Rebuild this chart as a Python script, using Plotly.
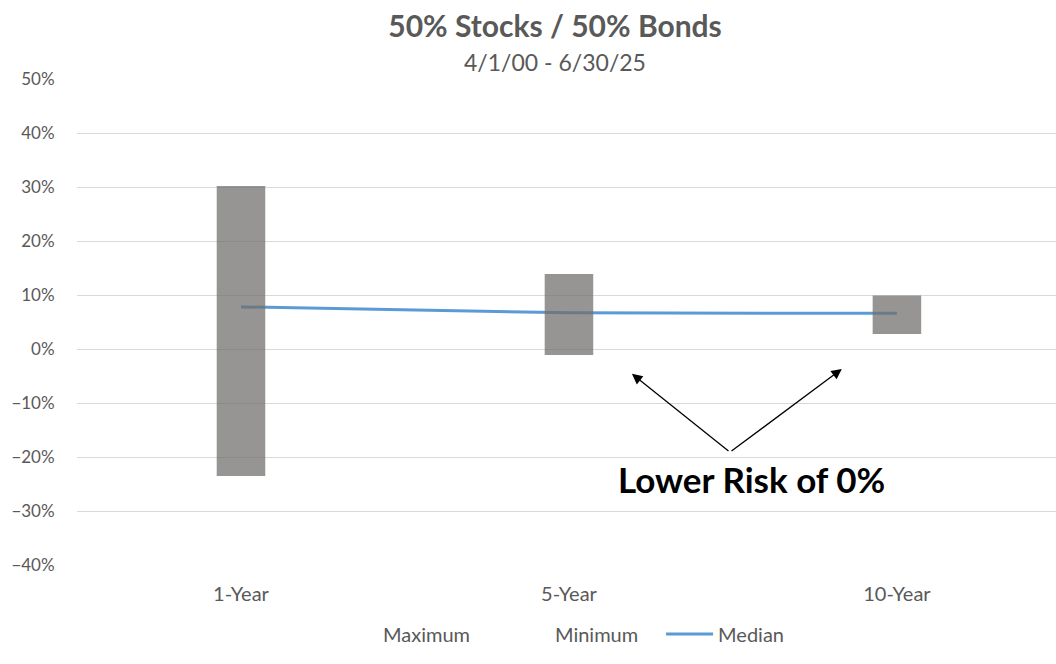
import plotly.graph_objects as go

# Rolling-period return ranges for a 50/50 stock/bond mix
periods = ["1-Year", "5-Year", "10-Year"]
maximum = [0.302, 0.139, 0.099]
minimum = [-0.235, -0.011, 0.028]
median = [0.078, 0.067, 0.066]

y_ticks = [-0.4, -0.3, -0.2, -0.1, 0.0, 0.1, 0.2, 0.3, 0.4, 0.5]

FONT = "Lato"
GREY_TEXT = "#595959"

fig = go.Figure()

# Median line (kept on the lower axis so the range bars sit over it)
fig.add_trace(go.Scatter(
    x=periods, y=median, name="Median", mode="lines",
    line=dict(color="#5B9BD5", width=3),
    yaxis="y", legend="legend2",
))

# Floating min-to-max range bars
fig.add_trace(go.Bar(
    x=periods,
    base=minimum,
    y=[hi - lo for hi, lo in zip(maximum, minimum)],
    width=0.148,
    marker=dict(color="rgba(112,110,107,0.73)", line=dict(width=0)),
    showlegend=False, yaxis="y2",
))

# Unfilled series markers for the legend entries
fig.add_trace(go.Scatter(
    x=periods, y=maximum, name="Maximum", mode="markers",
    marker=dict(opacity=0, color="white"), legendrank=1, yaxis="y",
))
fig.add_trace(go.Scatter(
    x=periods, y=minimum, name="Minimum", mode="markers",
    marker=dict(opacity=0, color="white"), legendrank=2, yaxis="y",
))

# Arrows pointing at the zero-floor region
tail_x, tail_y = 1.491, -0.191
for hx, hy in [(1.192, -0.046), (1.832, -0.037)]:
    fig.add_annotation(
        x=hx, y=hy, xref="x", yref="y",
        ax=tail_x, ay=tail_y, axref="x", ayref="y",
        text="", showarrow=True,
        arrowhead=2, arrowsize=1.6, arrowwidth=1.3, arrowcolor="black",
    )
fig.add_annotation(
    x=1.556, y=-0.240, xref="x", yref="y",
    text="<b>Lower Risk of 0%</b>", showarrow=False,
    font=dict(family=FONT, size=35, color="black"),
)

# Date range under the title
fig.add_annotation(
    x=0.4883, y=1.035, xref="paper", yref="paper",
    text="4/1/00 - 6/30/25", showarrow=False,
    font=dict(family=FONT, size=23, color=GREY_TEXT),
    xanchor="center", yanchor="middle",
)

axis_range = [y_ticks[0], y_ticks[-1]]

fig.update_layout(
    width=1056, height=664, autosize=False,
    margin=dict(l=77, r=0, t=79, b=99),
    paper_bgcolor="white", plot_bgcolor="white",
    font=dict(family=FONT, size=20, color=GREY_TEXT),
    title=dict(
        text="<b>50% Stocks / 50% Bonds</b>",
        x=0.5256, xref="container", xanchor="center",
        y=0.9608, yref="container", yanchor="middle",
        font=dict(family=FONT, size=30, color=GREY_TEXT),
    ),
    xaxis=dict(
        type="category", categoryorder="array", categoryarray=periods,
        range=[-0.5, 2.485], showgrid=False, zeroline=False, showline=False,
        ticks="outside", ticklen=11, tickcolor="rgba(0,0,0,0)",
        tickfont=dict(family=FONT, size=20, color=GREY_TEXT),
    ),
    yaxis=dict(
        range=axis_range, tickvals=y_ticks, tickformat=".0%",
        showgrid=True, gridcolor="#D9D9D9", gridwidth=1.3,
        zeroline=False, showline=False,
        ticks="outside", ticklen=18, tickcolor="rgba(0,0,0,0)",
        tickfont=dict(family=FONT, size=17, color=GREY_TEXT),
    ),
    yaxis2=dict(
        range=axis_range, overlaying="y", visible=False, showgrid=False,
    ),
    barmode="overlay",
    showlegend=True,
    legend=dict(
        orientation="h",
        xref="container", x=0.3248, xanchor="left",
        yref="container", y=0.045, yanchor="middle",
        font=dict(family=FONT, size=20, color=GREY_TEXT),
        entrywidth=127,
        bgcolor="rgba(0,0,0,0)",
    ),
    legend2=dict(
        orientation="h",
        xref="container", x=0.626, xanchor="left",
        yref="container", y=0.045, yanchor="middle",
        font=dict(family=FONT, size=20, color=GREY_TEXT),
        itemwidth=47,
        bgcolor="rgba(0,0,0,0)",
    ),
)

fig.write_html("out.html")
